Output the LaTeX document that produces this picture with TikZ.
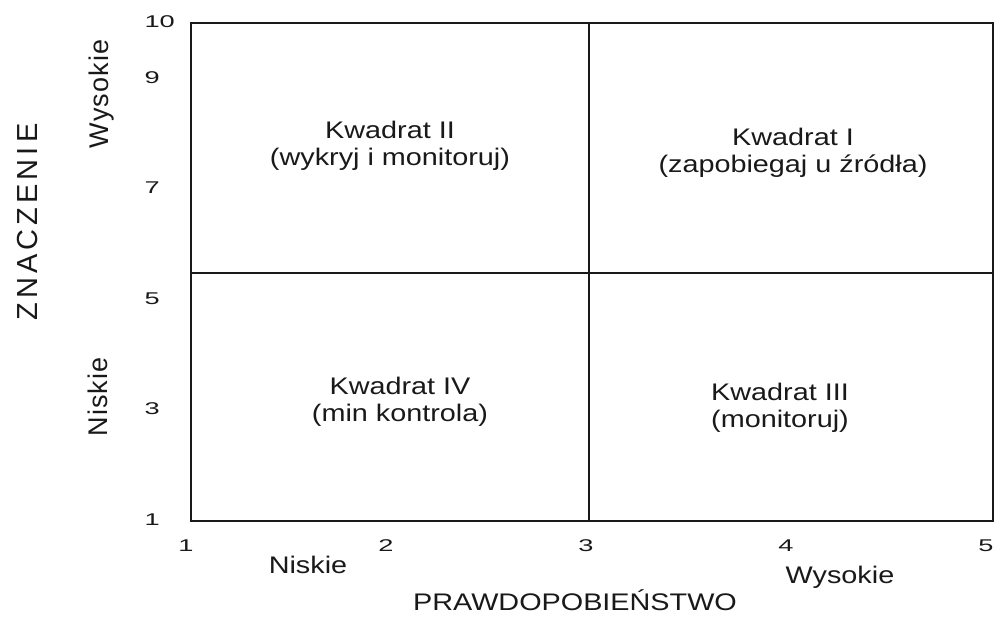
\documentclass[tikz,border=0pt]{standalone}
\usepackage{fontspec}
\setmainfont{Liberation Sans}[FakeStretch=1.2]
\newfontfamily\plainsans{Liberation Sans}
\newfontfamily\widesans{Liberation Sans}[FakeStretch=1.6]
\definecolor{ink}{RGB}{25, 25, 25}

\begin{document}
\begin{tikzpicture}[x=1pt, y=-1pt,
    q/.style={align=center, text=ink, font={\fontsize{24}{27}\selectfont}},
    n/.style={text=ink, font={\widesans\fontsize{17}{20}\selectfont}},
    t/.style={text=ink, font={\fontsize{24}{27}\selectfont}},
    v/.style={rotate=90, text=ink, font={\plainsans\fontsize{27}{29}\selectfont\addfontfeature{LetterSpace=4}}},
    frame/.style={draw=ink, line width=2.2pt},
    split/.style={draw=ink, line width=1.7pt}
  ]
  \useasboundingbox (0,0) rectangle (997,618);
  % grid corners
  \coordinate (tl) at (191,23);
  \coordinate (br) at (993,521);
  \coordinate (ml) at (191,273);
  \coordinate (mr) at (993,273);
  \coordinate (mt) at (589,23);
  \coordinate (mb) at (589,521);
  \draw[split] (ml)--(mr); \draw[split] (mt)--(mb);
  \draw[frame] (tl) rectangle (br);
  % quadrants
  \node[q] (k2) at (390,146) {Kwadrat II\\(wykryj i monitoruj)};
  \node[q] (k1) at (793,153) {Kwadrat I\\(zapobiegaj u źródła)};
  \node[q] (k4) at (400,402) {Kwadrat IV\\(min kontrola)};
  \node[q] (k3) at (780,408) {Kwadrat III\\(monitoruj)};
  % scales
  \foreach \v in {1,...,5}
    \node[n] (px\v) at ({186+(\v-1)*200},546) {\v};
  \foreach \v in {1,3,5,7,9,10}
    \node[n, anchor=west] (zy\v) at (141,{22+(10-\v)*55.3}) {\v};
  % axis titles
  \node[t] (lo) at (308,565) {Niskie};
  \node[t] (hi) at (840,577) {Wysokie};
  \node[t] (pr) at (575,600) {PRAWDOPOBIEŃSTWO};
  \node[v] (vlo) at (98,397) {Niskie};
  \node[v] (vhi) at (102,94) {Wysokie};
  \node[v, font={\plainsans\fontsize{29}{31}\selectfont\addfontfeature{LetterSpace=14}}] (zn) at (28,222) {ZNACZENIE};
\end{tikzpicture}
\end{document}
